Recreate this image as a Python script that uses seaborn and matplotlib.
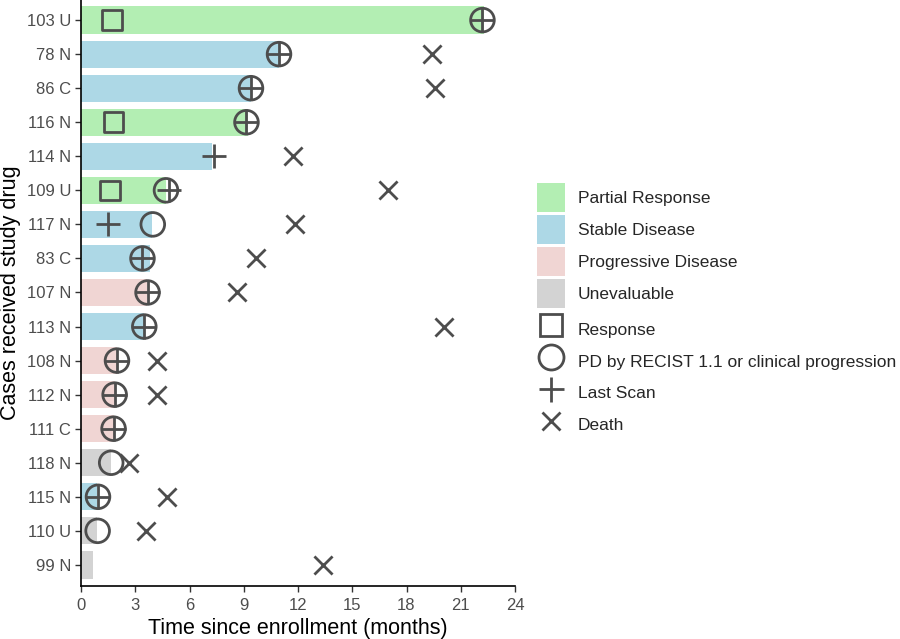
import numpy as np
import pandas as pd
import matplotlib
matplotlib.use("Agg")
import matplotlib.pyplot as plt
from matplotlib.patches import Patch
from matplotlib.lines import Line2D
import seaborn as sns

# cases, top to bottom
cases = ["103 U", "78 N", "86 C", "116 N", "114 N", "109 U", "117 N", "83 C", "107 N",
         "113 N", "108 N", "112 N", "111 C", "118 N", "115 N", "110 U", "99 N"]
duration = [22.3, 10.95, 9.4, 9.25, 7.27, 4.69, 3.92, 3.79, 3.64,
            3.46, 2.0, 1.9, 1.8, 1.67, 0.88, 0.88, 0.66]
best_response = ["Partial Response", "Stable Disease", "Stable Disease", "Partial Response",
                 "Stable Disease", "Partial Response", "Stable Disease", "Stable Disease",
                 "Progressive Disease", "Stable Disease", "Progressive Disease",
                 "Progressive Disease", "Progressive Disease", "Unevaluable",
                 "Stable Disease", "Unevaluable", "Unevaluable"]

# events (case, time in months)
response_case = ["103 U", "116 N", "109 U"]
response_time = [1.73, 1.8, 1.62]

pd_case = ["103 U", "78 N", "86 C", "116 N", "109 U", "117 N", "83 C", "107 N", "113 N",
           "108 N", "112 N", "111 C", "118 N", "115 N", "110 U"]
pd_time = [22.2, 10.95, 9.4, 9.15, 4.7, 3.97, 3.4, 3.68, 3.5,
           1.99, 1.86, 1.8, 1.67, 0.94, 0.92]

scan_case = ["103 U", "78 N", "86 C", "116 N", "114 N", "109 U", "117 N", "83 C", "107 N",
             "113 N", "108 N", "112 N", "111 C", "115 N"]
scan_time = [22.2, 10.95, 9.4, 9.15, 7.35, 4.85, 1.47, 3.4, 3.68,
             3.5, 1.99, 1.86, 1.8, 0.94]

death_case = ["78 N", "86 C", "114 N", "109 U", "117 N", "83 C", "107 N", "113 N",
              "108 N", "112 N", "118 N", "115 N", "110 U", "99 N"]
death_time = [19.4, 19.6, 11.7, 17.0, 11.84, 9.68, 8.65, 20.1,
              4.23, 4.18, 2.68, 4.78, 3.57, 13.4]

response_levels = ["Partial Response", "Stable Disease", "Progressive Disease", "Unevaluable"]
fill_colors = ["#b3eeb3", "#add8e6", "#f0d5d3", "#d3d3d3"]
event_labels = ["Response", "PD by RECIST 1.1 or clinical progression", "Last Scan", "Death"]

sns.set_style("white")
plt.rcParams["font.family"] = ["Liberation Sans", "DejaVu Sans"]

bars = pd.DataFrame({"case": cases, "months": duration, "response": best_response})

fig = plt.figure(figsize=(9, 6.39), dpi=100)
ax = fig.add_axes([81 / 900, 1 - 586 / 639, 434 / 900, 586 / 639])

sns.barplot(data=bars, x="months", y="case", hue="response", order=cases,
            hue_order=response_levels, palette=fill_colors, saturation=1, dodge=False,
            width=0.8, linewidth=0, legend=False, ax=ax)

mark_col = "#4d4d4d"


def ypos(names):
    return [cases.index(n) for n in names]


sns.scatterplot(x=response_time, y=ypos(response_case), marker="s", s=200,
                facecolor="none", edgecolor=mark_col, linewidth=2, ax=ax, zorder=5)
sns.scatterplot(x=pd_time, y=ypos(pd_case), marker="o", s=290,
                facecolor="none", edgecolor=mark_col, linewidth=2, ax=ax, zorder=5)
sns.scatterplot(x=scan_time, y=ypos(scan_case), marker="+", s=300,
                color=mark_col, linewidth=2, ax=ax, zorder=5)
sns.scatterplot(x=death_time, y=ypos(death_case), marker="x", s=170,
                color=mark_col, linewidth=2, ax=ax, zorder=5)

ax.set_xlim(0, 24)
ax.set_ylim(len(cases) - 0.38, -0.59)
ax.set_xticks(np.arange(0, 25, 3))
sns.despine(ax=ax)
for s in ["left", "bottom"]:
    ax.spines[s].set_color("black")
    ax.spines[s].set_linewidth(1.2)
ax.tick_params(axis="both", which="major", length=4, width=1, color="#333333",
               labelsize=12, labelcolor="#4d4d4d", left=True, bottom=True, pad=3)
ax.tick_params(axis="x", pad=4.5)
ax.set_xlabel("Time since enrollment (months)", fontsize=15.5, color="black", labelpad=4)
ax.set_ylabel("Cases received study drug", fontsize=15.5, color="black", labelpad=4)

fill_handles = [Patch(facecolor=c, edgecolor="none") for c in fill_colors]
shape_handles = [
    Line2D([], [], ls="none", marker="s", ms=16, mfc="none", mec=mark_col, mew=2),
    Line2D([], [], ls="none", marker="o", ms=18, mfc="none", mec=mark_col, mew=2),
    Line2D([], [], ls="none", marker="+", ms=18, color=mark_col, mew=2),
    Line2D([], [], ls="none", marker="x", ms=13, color=mark_col, mew=2),
]
leg_kw = dict(loc="upper left", frameon=False, fontsize=12.5, handlelength=1.6,
              handletextpad=0.75, borderpad=0, borderaxespad=0)
leg1 = fig.legend(fill_handles, response_levels, bbox_to_anchor=(537 / 900, 1 - 183 / 639),
                  handleheight=2.2, labelspacing=0.17, **leg_kw)
leg2 = fig.legend(shape_handles, event_labels, bbox_to_anchor=(537 / 900, 1 - 316 / 639),
                  handleheight=2.0, labelspacing=0.28, **leg_kw)

fig.savefig("out.png", dpi=100)
